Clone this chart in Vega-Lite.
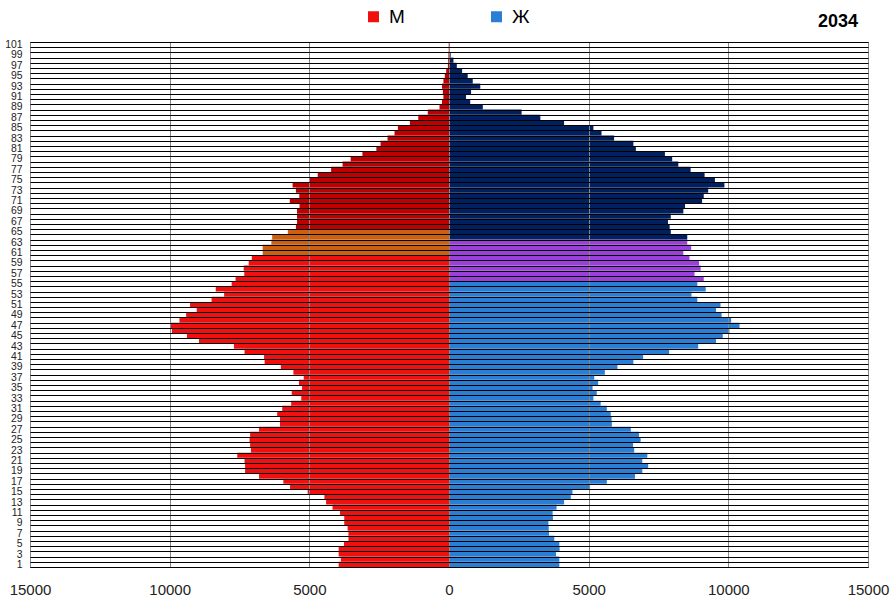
{
  "$schema": "https://vega.github.io/schema/vega-lite/v6.json",
  "autosize": "none",
  "width": 838,
  "height": 525,
  "padding": {"left": 30, "top": 42, "right": 24, "bottom": 39},
  "background": "white",
  "title": {"text": "2034", "anchor": "end", "frame": "group", "font": "Liberation Sans", "fontSize": 18, "fontWeight": "bold", "color": "#000", "dx": -10, "offset": -24},
  "data": {"values": [
    {"age":1,"sex":"М","grp":"М","value":3950},{"age":2,"sex":"М","grp":"М","value":3870},{"age":3,"sex":"М","grp":"М","value":3950},{"age":4,"sex":"М","grp":"М","value":3950},{"age":5,"sex":"М","grp":"М","value":3760},{"age":6,"sex":"М","grp":"М","value":3600},{"age":7,"sex":"М","grp":"М","value":3600},{"age":8,"sex":"М","grp":"М","value":3630},{"age":9,"sex":"М","grp":"М","value":3750},{"age":10,"sex":"М","grp":"М","value":3750},
    {"age":11,"sex":"М","grp":"М","value":3900},{"age":12,"sex":"М","grp":"М","value":4170},{"age":13,"sex":"М","grp":"М","value":4400},{"age":14,"sex":"М","grp":"М","value":4460},{"age":15,"sex":"М","grp":"М","value":5060},{"age":16,"sex":"М","grp":"М","value":5690},{"age":17,"sex":"М","grp":"М","value":5930},{"age":18,"sex":"М","grp":"М","value":6800},{"age":19,"sex":"М","grp":"М","value":7300},{"age":20,"sex":"М","grp":"М","value":7300},
    {"age":21,"sex":"М","grp":"М","value":7320},{"age":22,"sex":"М","grp":"М","value":7580},{"age":23,"sex":"М","grp":"М","value":7090},{"age":24,"sex":"М","grp":"М","value":7120},{"age":25,"sex":"М","grp":"М","value":7140},{"age":26,"sex":"М","grp":"М","value":7120},{"age":27,"sex":"М","grp":"М","value":6800},{"age":28,"sex":"М","grp":"М","value":6050},{"age":29,"sex":"М","grp":"М","value":6050},{"age":30,"sex":"М","grp":"М","value":6150},
    {"age":31,"sex":"М","grp":"М","value":5970},{"age":32,"sex":"М","grp":"М","value":5650},{"age":33,"sex":"М","grp":"М","value":5290},{"age":34,"sex":"М","grp":"М","value":5630},{"age":35,"sex":"М","grp":"М","value":5260},{"age":36,"sex":"М","grp":"М","value":5370},{"age":37,"sex":"М","grp":"М","value":5200},{"age":38,"sex":"М","grp":"М","value":5570},{"age":39,"sex":"М","grp":"М","value":6020},{"age":40,"sex":"М","grp":"М","value":6600},
    {"age":41,"sex":"М","grp":"М","value":6620},{"age":42,"sex":"М","grp":"М","value":7320},{"age":43,"sex":"М","grp":"М","value":7700},{"age":44,"sex":"М","grp":"М","value":8950},{"age":45,"sex":"М","grp":"М","value":9380},{"age":46,"sex":"М","grp":"М","value":9920},{"age":47,"sex":"М","grp":"М","value":9960},{"age":48,"sex":"М","grp":"М","value":9650},{"age":49,"sex":"М","grp":"М","value":9410},{"age":50,"sex":"М","grp":"М","value":9030},
    {"age":51,"sex":"М","grp":"М","value":9270},{"age":52,"sex":"М","grp":"М","value":8500},{"age":53,"sex":"М","grp":"М","value":8050},{"age":54,"sex":"М","grp":"М","value":8350},{"age":55,"sex":"М","grp":"М","value":7780},{"age":56,"sex":"М","grp":"М","value":7640},{"age":57,"sex":"М","grp":"М","value":7330},{"age":58,"sex":"М","grp":"М","value":7350},{"age":59,"sex":"М","grp":"М","value":7170},{"age":60,"sex":"М","grp":"М","value":7060},
    {"age":61,"sex":"М","grp":"М 61–65","value":6670},{"age":62,"sex":"М","grp":"М 61–65","value":6670},{"age":63,"sex":"М","grp":"М 61–65","value":6360},{"age":64,"sex":"М","grp":"М 61–65","value":6330},{"age":65,"sex":"М","grp":"М 61–65","value":5770},
    {"age":66,"sex":"М","grp":"М 66+","value":5480},{"age":67,"sex":"М","grp":"М 66+","value":5440},{"age":68,"sex":"М","grp":"М 66+","value":5440},{"age":69,"sex":"М","grp":"М 66+","value":5440},{"age":70,"sex":"М","grp":"М 66+","value":5350},
    {"age":71,"sex":"М","grp":"М 66+","value":5700},{"age":72,"sex":"М","grp":"М 66+","value":5360},{"age":73,"sex":"М","grp":"М 66+","value":5480},{"age":74,"sex":"М","grp":"М 66+","value":5600},{"age":75,"sex":"М","grp":"М 66+","value":5000},{"age":76,"sex":"М","grp":"М 66+","value":4700},{"age":77,"sex":"М","grp":"М 66+","value":4220},{"age":78,"sex":"М","grp":"М 66+","value":3810},{"age":79,"sex":"М","grp":"М 66+","value":3520},{"age":80,"sex":"М","grp":"М 66+","value":3100},
    {"age":81,"sex":"М","grp":"М 66+","value":2600},{"age":82,"sex":"М","grp":"М 66+","value":2450},{"age":83,"sex":"М","grp":"М 66+","value":2200},{"age":84,"sex":"М","grp":"М 66+","value":1950},{"age":85,"sex":"М","grp":"М 66+","value":1830},{"age":86,"sex":"М","grp":"М 66+","value":1400},{"age":87,"sex":"М","grp":"М 66+","value":1100},{"age":88,"sex":"М","grp":"М 66+","value":760},{"age":89,"sex":"М","grp":"М 66+","value":340},{"age":90,"sex":"М","grp":"М 66+","value":250},
    {"age":91,"sex":"М","grp":"М 66+","value":200},{"age":92,"sex":"М","grp":"М 66+","value":220},{"age":93,"sex":"М","grp":"М 66+","value":250},{"age":94,"sex":"М","grp":"М 66+","value":200},{"age":95,"sex":"М","grp":"М 66+","value":150},{"age":96,"sex":"М","grp":"М 66+","value":100},{"age":97,"sex":"М","grp":"М 66+","value":40},{"age":98,"sex":"М","grp":"М 66+","value":30},{"age":99,"sex":"М","grp":"М 66+","value":20},{"age":100,"sex":"М","grp":"М 66+","value":10},{"age":101,"sex":"М","grp":"М 66+","value":10},
    {"age":1,"sex":"Ж","grp":"Ж","value":3950},{"age":2,"sex":"Ж","grp":"Ж","value":3950},{"age":3,"sex":"Ж","grp":"Ж","value":3830},{"age":4,"sex":"Ж","grp":"Ж","value":3960},{"age":5,"sex":"Ж","grp":"Ж","value":3950},{"age":6,"sex":"Ж","grp":"Ж","value":3770},{"age":7,"sex":"Ж","grp":"Ж","value":3580},{"age":8,"sex":"Ж","grp":"Ж","value":3570},{"age":9,"sex":"Ж","grp":"Ж","value":3560},{"age":10,"sex":"Ж","grp":"Ж","value":3720},
    {"age":11,"sex":"Ж","grp":"Ж","value":3710},{"age":12,"sex":"Ж","grp":"Ж","value":3850},{"age":13,"sex":"Ж","grp":"Ж","value":4120},{"age":14,"sex":"Ж","grp":"Ж","value":4360},{"age":15,"sex":"Ж","grp":"Ж","value":4420},{"age":16,"sex":"Ж","grp":"Ж","value":5050},{"age":17,"sex":"Ж","grp":"Ж","value":5650},{"age":18,"sex":"Ж","grp":"Ж","value":6660},{"age":19,"sex":"Ж","grp":"Ж","value":6920},{"age":20,"sex":"Ж","grp":"Ж","value":7130},
    {"age":21,"sex":"Ж","grp":"Ж","value":6920},{"age":22,"sex":"Ж","grp":"Ж","value":7100},{"age":23,"sex":"Ж","grp":"Ж","value":6630},{"age":24,"sex":"Ж","grp":"Ж","value":6590},{"age":25,"sex":"Ж","grp":"Ж","value":6860},{"age":26,"sex":"Ж","grp":"Ж","value":6800},{"age":27,"sex":"Ж","grp":"Ж","value":6510},{"age":28,"sex":"Ж","grp":"Ж","value":5830},{"age":29,"sex":"Ж","grp":"Ж","value":5820},{"age":30,"sex":"Ж","grp":"Ж","value":5790},
    {"age":31,"sex":"Ж","grp":"Ж","value":5650},{"age":32,"sex":"Ж","grp":"Ж","value":5430},{"age":33,"sex":"Ж","grp":"Ж","value":5170},{"age":34,"sex":"Ж","grp":"Ж","value":5290},{"age":35,"sex":"Ж","grp":"Ж","value":5140},{"age":36,"sex":"Ж","grp":"Ж","value":5340},{"age":37,"sex":"Ж","grp":"Ж","value":5200},{"age":38,"sex":"Ж","grp":"Ж","value":5580},{"age":39,"sex":"Ж","grp":"Ж","value":6030},{"age":40,"sex":"Ж","grp":"Ж","value":6600},
    {"age":41,"sex":"Ж","grp":"Ж","value":6950},{"age":42,"sex":"Ж","grp":"Ж","value":7880},{"age":43,"sex":"Ж","grp":"Ж","value":8920},{"age":44,"sex":"Ж","grp":"Ж","value":9560},{"age":45,"sex":"Ж","grp":"Ж","value":9800},{"age":46,"sex":"Ж","grp":"Ж","value":10040},{"age":47,"sex":"Ж","grp":"Ж","value":10400},{"age":48,"sex":"Ж","grp":"Ж","value":10100},{"age":49,"sex":"Ж","grp":"Ж","value":9760},{"age":50,"sex":"Ж","grp":"Ж","value":9560},
    {"age":51,"sex":"Ж","grp":"Ж","value":9720},{"age":52,"sex":"Ж","grp":"Ж","value":8890},{"age":53,"sex":"Ж","grp":"Ж","value":8680},{"age":54,"sex":"Ж","grp":"Ж","value":9190},{"age":55,"sex":"Ж","grp":"Ж","value":8890},
    {"age":56,"sex":"Ж","grp":"Ж 56–63","value":9120},{"age":57,"sex":"Ж","grp":"Ж 56–63","value":8790},{"age":58,"sex":"Ж","grp":"Ж 56–63","value":9010},{"age":59,"sex":"Ж","grp":"Ж 56–63","value":8950},{"age":60,"sex":"Ж","grp":"Ж 56–63","value":8610},{"age":61,"sex":"Ж","grp":"Ж 56–63","value":8390},{"age":62,"sex":"Ж","grp":"Ж 56–63","value":8670},{"age":63,"sex":"Ж","grp":"Ж 56–63","value":8530},
    {"age":64,"sex":"Ж","grp":"Ж 64+","value":8530},{"age":65,"sex":"Ж","grp":"Ж 64+","value":7940},{"age":66,"sex":"Ж","grp":"Ж 64+","value":7900},{"age":67,"sex":"Ж","grp":"Ж 64+","value":7840},{"age":68,"sex":"Ж","grp":"Ж 64+","value":7940},{"age":69,"sex":"Ж","grp":"Ж 64+","value":8390},{"age":70,"sex":"Ж","grp":"Ж 64+","value":8450},
    {"age":71,"sex":"Ж","grp":"Ж 64+","value":9060},{"age":72,"sex":"Ж","grp":"Ж 64+","value":9120},{"age":73,"sex":"Ж","grp":"Ж 64+","value":9280},{"age":74,"sex":"Ж","grp":"Ж 64+","value":9860},{"age":75,"sex":"Ж","grp":"Ж 64+","value":9520},{"age":76,"sex":"Ж","grp":"Ж 64+","value":9150},{"age":77,"sex":"Ж","grp":"Ж 64+","value":8650},{"age":78,"sex":"Ж","grp":"Ж 64+","value":8210},{"age":79,"sex":"Ж","grp":"Ж 64+","value":7990},{"age":80,"sex":"Ж","grp":"Ж 64+","value":7730},
    {"age":81,"sex":"Ж","grp":"Ж 64+","value":6690},{"age":82,"sex":"Ж","grp":"Ж 64+","value":6600},{"age":83,"sex":"Ж","grp":"Ж 64+","value":5910},{"age":84,"sex":"Ж","grp":"Ж 64+","value":5460},{"age":85,"sex":"Ж","grp":"Ж 64+","value":5170},{"age":86,"sex":"Ж","grp":"Ж 64+","value":4120},{"age":87,"sex":"Ж","grp":"Ж 64+","value":3270},{"age":88,"sex":"Ж","grp":"Ж 64+","value":2600},{"age":89,"sex":"Ж","grp":"Ж 64+","value":1210},{"age":90,"sex":"Ж","grp":"Ж 64+","value":760},
    {"age":91,"sex":"Ж","grp":"Ж 64+","value":610},{"age":92,"sex":"Ж","grp":"Ж 64+","value":790},{"age":93,"sex":"Ж","grp":"Ж 64+","value":1120},{"age":94,"sex":"Ж","grp":"Ж 64+","value":850},{"age":95,"sex":"Ж","grp":"Ж 64+","value":670},{"age":96,"sex":"Ж","grp":"Ж 64+","value":470},{"age":97,"sex":"Ж","grp":"Ж 64+","value":280},{"age":98,"sex":"Ж","grp":"Ж 64+","value":160},{"age":99,"sex":"Ж","grp":"Ж 64+","value":60},{"age":100,"sex":"Ж","grp":"Ж 64+","value":30},{"age":101,"sex":"Ж","grp":"Ж 64+","value":10}
  ]},
  "transform": [{"calculate": "datum.sex == 'М' ? -datum.value : datum.value", "as": "signed"}],
  "mark": {"type": "bar"},
  "encoding": {
    "y": {
      "field": "age", "type": "ordinal", "sort": "descending",
      "scale": {"paddingInner": 0, "paddingOuter": 0},
      "axis": {"title": null, "tickBand": "extent", "grid": true, "gridColor": "#000", "gridWidth": 1.2, "gridOpacity": 1, "domain": false, "ticks": false, "labelExpr": "datum.value % 2 == 1 ? datum.label : ''", "labelFontSize": 10.4, "labelFont": "Liberation Sans", "labelPadding": 8, "labelColor": "#222", "zindex": 1, "labelOverlap": false, "labelBound": false}
    },
    "x": {
      "field": "signed", "type": "quantitative",
      "scale": {"domain": [-15000, 15000], "nice": false},
      "axis": {"title": null, "values": [-15000, -10000, -5000, 0, 5000, 10000, 15000], "labelExpr": "format(abs(datum.value), 'd')", "grid": true, "gridColor": "#888", "domain": false, "ticks": false, "tickSize": 0, "labelPadding": 15, "labelFontSize": 15, "labelFont": "Liberation Sans", "labelColor": "#222", "labelFlush": false, "zindex": 1}
    },
    "color": {
      "field": "grp", "type": "nominal",
      "scale": {"domain": ["М", "Ж", "М 61–65", "Ж 56–63", "М 66+", "Ж 64+"], "range": ["#F01010", "#2A7FD4", "#CC6010", "#9B40DB", "#C00000", "#002060"]},
      "legend": {"values": ["М", "Ж"], "title": null, "orient": "none", "legendX": 334, "legendY": -35, "direction": "horizontal", "symbolType": "square", "symbolSize": 121, "symbolStrokeWidth": 0, "labelFont": "Liberation Sans", "labelFontSize": 19, "labelColor": "#000", "labelOffset": 6, "columnPadding": 82, "padding": 0}
    }
  },
  "config": {"view": {"stroke": "#000", "strokeWidth": 1}}
}
